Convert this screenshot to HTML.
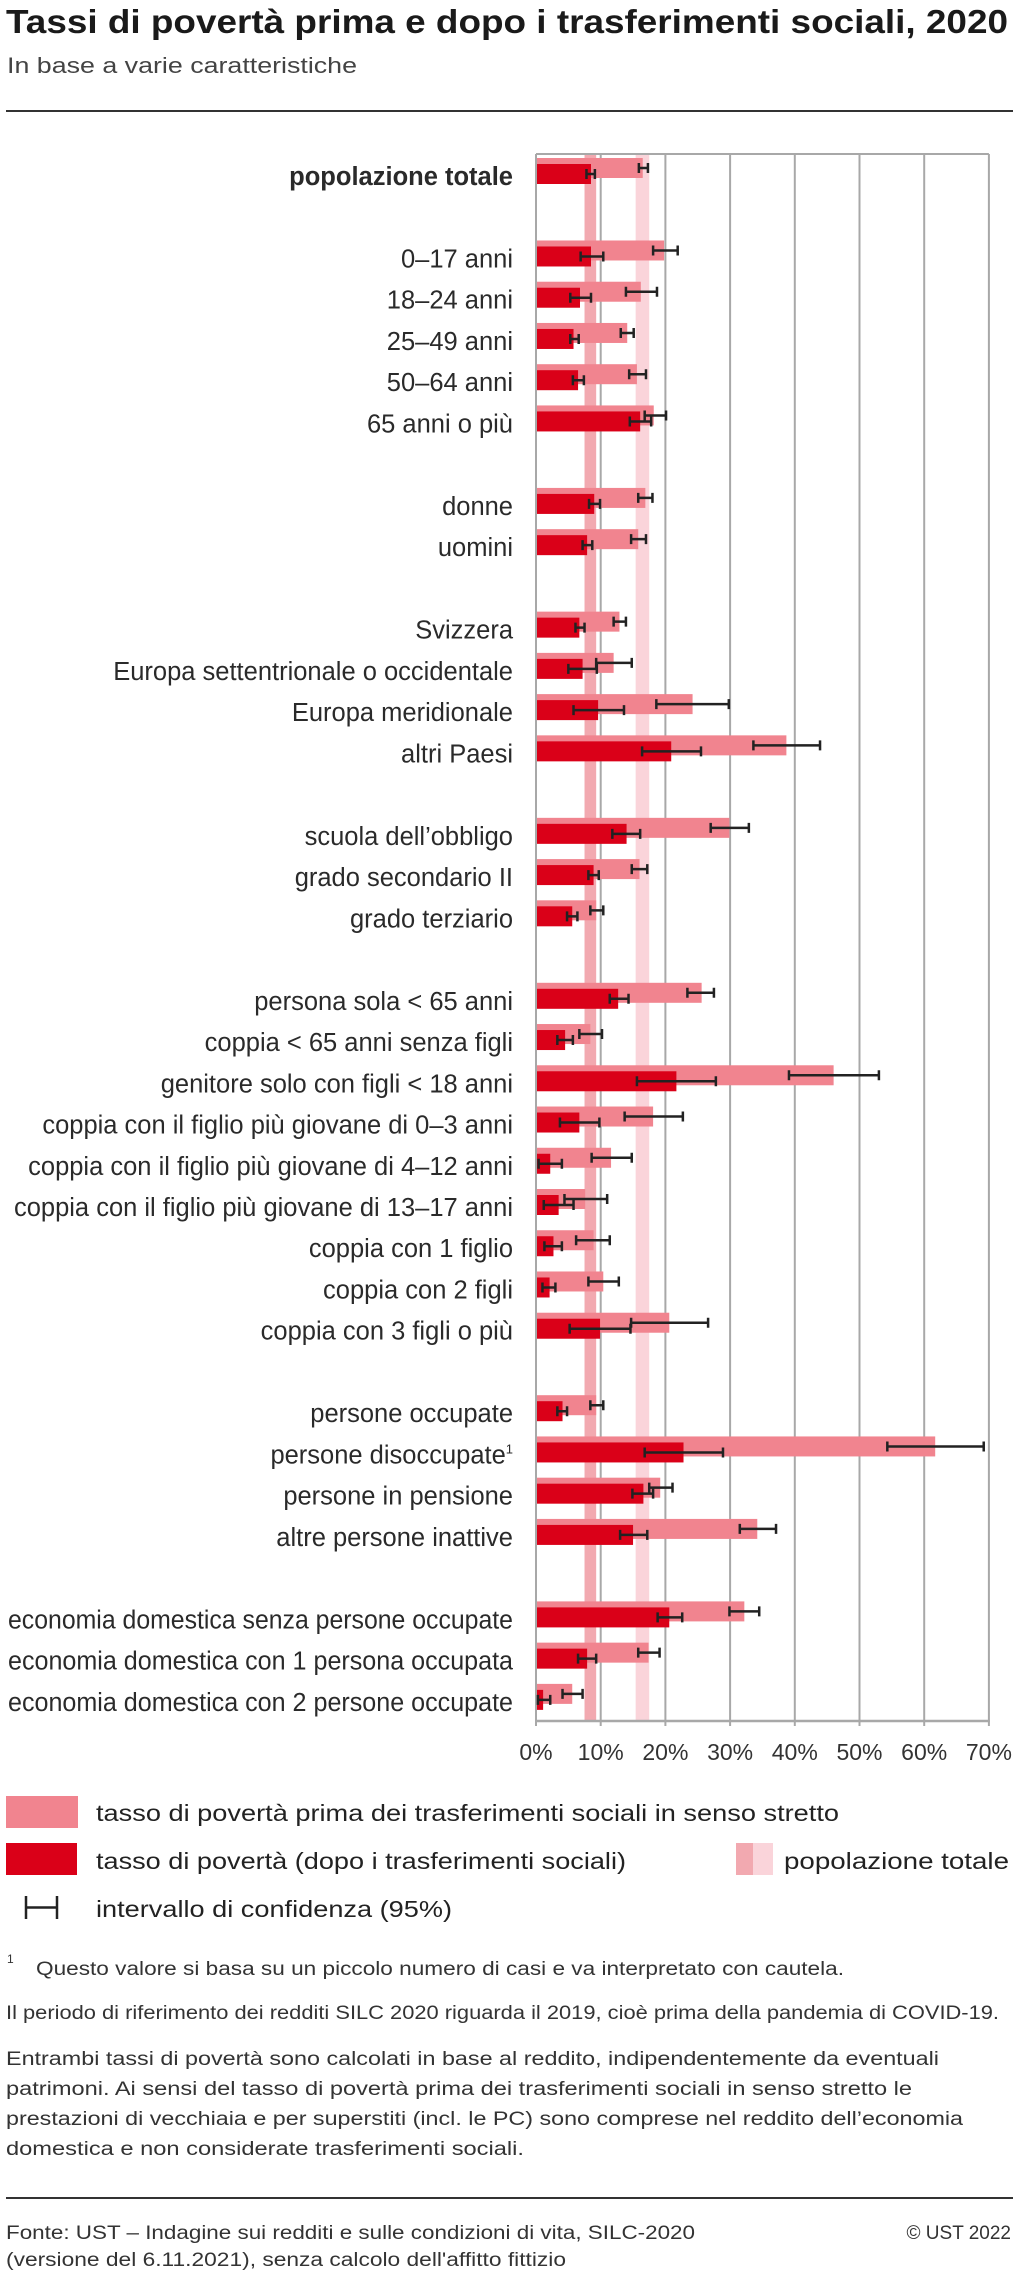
<!DOCTYPE html>
<html><head><meta charset="utf-8"><style>
html,body{margin:0;padding:0;background:#fff;}
svg{display:block;font-family:"Liberation Sans",sans-serif;}
</style></head><body>
<svg id="page" width="1013" height="2272" viewBox="0 0 1013 2272" xmlns="http://www.w3.org/2000/svg">
<text x="6" y="33" font-size="33" font-weight="bold" fill="#1a1a1a" textLength="1002" lengthAdjust="spacingAndGlyphs">Tassi di povertà prima e dopo i trasferimenti sociali, 2020</text>
<text x="7" y="73" font-size="22" fill="#444" textLength="350" lengthAdjust="spacingAndGlyphs">In base a varie caratteristiche</text>
<rect x="6" y="110" width="1007" height="2" fill="#333"/>
<g id="plot"></g>
<g id="legend">
  <rect x="6" y="1796" width="72" height="32" fill="#F1848F"/>
  <text x="96" y="1821" font-size="23" fill="#222" textLength="743" lengthAdjust="spacingAndGlyphs">tasso di povertà prima dei trasferimenti sociali in senso stretto</text>
  <rect x="6" y="1843" width="71" height="32" fill="#DA0018"/>
  <text x="96" y="1869" font-size="23" fill="#222" textLength="530" lengthAdjust="spacingAndGlyphs">tasso di povertà (dopo i trasferimenti sociali)</text>
  <rect x="736" y="1843" width="17" height="32" fill="#F2A9B0"/>
  <rect x="753" y="1843" width="20" height="32" fill="#FAD4DA"/>
  <text x="784" y="1869" font-size="23" fill="#222" textLength="225" lengthAdjust="spacingAndGlyphs">popolazione totale</text>
  <path d="M26 1896 V1919 M57 1896 V1919 M26 1907.5 H57" stroke="#222" stroke-width="2.5" fill="none"/>
  <text x="96" y="1917" font-size="23" fill="#222" textLength="356" lengthAdjust="spacingAndGlyphs">intervallo di confidenza (95%)</text>
</g>
<g font-size="19" fill="#333">
  <text x="7" y="1963" font-size="12">1</text>
  <text x="36" y="1975" textLength="808" lengthAdjust="spacingAndGlyphs">Questo valore si basa su un piccolo numero di casi e va interpretato con cautela.</text>
  <text x="6" y="2019" textLength="993" lengthAdjust="spacingAndGlyphs">Il periodo di riferimento dei redditi SILC 2020 riguarda il 2019, cioè prima della pandemia di COVID-19.</text>
  <text x="6" y="2065" textLength="933" lengthAdjust="spacingAndGlyphs">Entrambi tassi di povertà sono calcolati in base al reddito, indipendentemente da eventuali</text>
  <text x="6" y="2095" textLength="906" lengthAdjust="spacingAndGlyphs">patrimoni. Ai sensi del tasso di povertà prima dei trasferimenti sociali in senso stretto le</text>
  <text x="6" y="2125" textLength="957" lengthAdjust="spacingAndGlyphs">prestazioni di vecchiaia e per superstiti (incl. le PC) sono comprese nel reddito dell’economia</text>
  <text x="6" y="2155" textLength="518" lengthAdjust="spacingAndGlyphs">domestica e non considerate trasferimenti sociali.</text>
</g>
<rect x="6" y="2197" width="1007" height="2" fill="#333"/>
<text x="6" y="2239" font-size="19" fill="#333" textLength="689" lengthAdjust="spacingAndGlyphs">Fonte: UST – Indagine sui redditi e sulle condizioni di vita, SILC-2020</text>
<text x="6" y="2266" font-size="19" fill="#333" textLength="560" lengthAdjust="spacingAndGlyphs">(versione del 6.11.2021), senza calcolo dell'affitto fittizio</text>
<text x="1011" y="2239" font-size="19" fill="#333" text-anchor="end">© UST 2022</text>
</svg>
<script>
const categories = ["popolazione totale","0–17 anni","18–24 anni","25–49 anni","50–64 anni","65 anni o più","donne","uomini","Svizzera","Europa settentrionale o occidentale","Europa meridionale","altri Paesi","scuola dell’obbligo","grado secondario II","grado terziario","persona sola < 65 anni","coppia < 65 anni senza figli","genitore solo con figli < 18 anni","coppia con il figlio più giovane di 0–3 anni","coppia con il figlio più giovane di 4–12 anni","coppia con il figlio più giovane di 13–17 anni","coppia con 1 figlio","coppia con 2 figli","coppia con 3 figli o più","persone occupate","persone disoccupate","persone in pensione","altre persone inattive","economia domestica senza persone occupate","economia domestica con 1 persona occupata","economia domestica con 2 persone occupate"];
const slots = [0,2,3,4,5,6,8,9,11,12,13,14,16,17,18,20,21,22,23,24,25,26,27,28,30,31,32,33,35,36,37];
const beforeRate = [16.5,19.8,16.2,14.1,15.6,18.2,16.9,15.8,12.9,12.0,24.2,38.7,29.9,16.0,9.3,25.6,8.4,46.0,18.1,11.6,7.6,8.9,10.4,20.6,9.3,61.7,19.2,34.2,32.2,17.4,5.6];
const beforeLow = [15.9,18.1,13.9,13.1,14.4,16.8,15.8,14.7,12.0,9.3,18.6,33.6,27.0,14.8,8.4,23.4,6.7,39.1,13.7,8.6,4.4,6.2,8.1,14.7,8.4,54.3,17.5,31.5,29.9,15.8,4.1];
const beforeHigh = [17.3,21.9,18.7,15.1,17.0,20.1,18.0,17.0,13.9,14.8,29.8,43.9,32.9,17.2,10.4,27.5,10.2,53.0,22.7,14.8,11.0,11.4,12.8,26.6,10.4,69.2,21.1,37.1,34.5,19.1,7.2];
const afterRate = [8.5,8.5,6.8,5.8,6.5,16.1,9.0,7.9,6.7,7.2,9.6,20.9,14.0,8.9,5.6,12.7,4.5,21.7,6.7,2.2,3.5,2.7,2.1,9.9,4.1,22.8,16.6,15.0,20.6,7.9,1.1];
const afterLow = [7.8,6.9,5.3,5.3,5.7,14.5,8.2,7.2,6.1,5.0,5.8,16.4,11.8,8.1,4.8,11.4,3.3,15.6,3.7,0.4,1.2,1.3,1.0,5.2,3.3,16.8,14.9,13.0,18.8,6.5,0.3];
const afterHigh = [9.1,10.4,8.5,6.6,7.4,17.8,9.9,8.7,7.5,9.4,13.6,25.5,16.1,9.7,6.4,14.3,5.7,27.8,9.8,4.0,5.8,4.0,3.0,14.6,4.8,28.9,18.1,17.2,22.6,9.3,2.2];
const popBandAfter = [7.5,9.3];
const popBandBefore = [15.4,17.5];
const xTicks = [0,10,20,30,40,50,60,70];
const xTickLabels = ["0%","10%","20%","30%","40%","50%","60%","70%"];

const NS = "http://www.w3.org/2000/svg";
const X0 = 536, PX10 = 64.7, TOP = 154, BOTTOM = 1721, ROW0 = 158, PITCH = 41.24;
const xs = v => X0 + v * PX10 / 10;
const rowTop = s => ROW0 + s * PITCH;
const plot = document.getElementById('plot');
function mk(tag, attrs) { const e = document.createElementNS(NS, tag); for (const k in attrs) e.setAttribute(k, attrs[k]); plot.appendChild(e); return e; }

let e;
e = mk('rect', {x: xs(popBandAfter[0]), y: TOP, width: xs(popBandAfter[1]) - xs(popBandAfter[0]), height: BOTTOM - TOP, fill: '#F2A9B0'});


e = mk('rect', {x: xs(popBandBefore[0]), y: TOP, width: xs(popBandBefore[1]) - xs(popBandBefore[0]), height: BOTTOM - TOP, fill: '#FAD4DA'});



xTicks.forEach((t, i) => {
  const x = xs(t);
  const g = mk('line', {x1: x, x2: x, y1: TOP, y2: BOTTOM + 5, stroke: '#A8A8A8', 'stroke-width': 2});
  
  
  const tl = mk('text', {x: x, y: BOTTOM + 39, 'font-size': 23, fill: '#333', 'text-anchor': 'middle'});
  tl.textContent = xTickLabels[i];
  
  
});
e = mk('line', {x1: X0, x2: xs(70), y1: TOP, y2: TOP, stroke: '#A8A8A8', 'stroke-width': 2});


e = mk('line', {x1: X0 - 1, x2: xs(70) + 1, y1: BOTTOM, y2: BOTTOM, stroke: '#A8A8A8', 'stroke-width': 2.5});



function ci(lo, hi, cy, name) {
  const p = mk('path', {d: `M${xs(lo)} ${cy - 5} V${cy + 5} M${xs(hi)} ${cy - 5} V${cy + 5} M${xs(lo)} ${cy} H${xs(hi)}`, stroke: '#222', 'stroke-width': 2.5, fill: 'none'});
  
  
}

categories.forEach((c, i) => {
  const t = rowTop(slots[i]);
  const b = mk('rect', {x: X0 + 1, y: t, width: xs(beforeRate[i]) - X0 - 1, height: 20, fill: '#F1848F'});
  
  
  const r = mk('rect', {x: X0 + 1, y: t + 6, width: xs(afterRate[i]) - X0 - 1, height: 20, fill: '#DA0018'});
  
  
  ci(beforeLow[i], beforeHigh[i], t + 10, 'ci-before-' + i);
  ci(afterLow[i], afterHigh[i], t + 16, 'ci-after-' + i);
  const lab = mk('text', {x: 513, y: t + 27, 'font-size': 25.5, fill: '#2a2a2a', 'text-anchor': 'end'});
  if (i === 0) lab.setAttribute('font-weight', 'bold');
  lab.textContent = c;
  if (i === 25) {
    const sup = document.createElementNS(NS, 'tspan');
    sup.setAttribute('font-size', 13);
    sup.setAttribute('dy', -10);
    sup.textContent = '1';
    lab.appendChild(sup);
  }
  const w = lab.getComputedTextLength();
  if (w > 505) {
    lab.setAttribute('textLength', 505);
    lab.setAttribute('lengthAdjust', 'spacingAndGlyphs');
  }
  
  
});
</script>
</body></html>
